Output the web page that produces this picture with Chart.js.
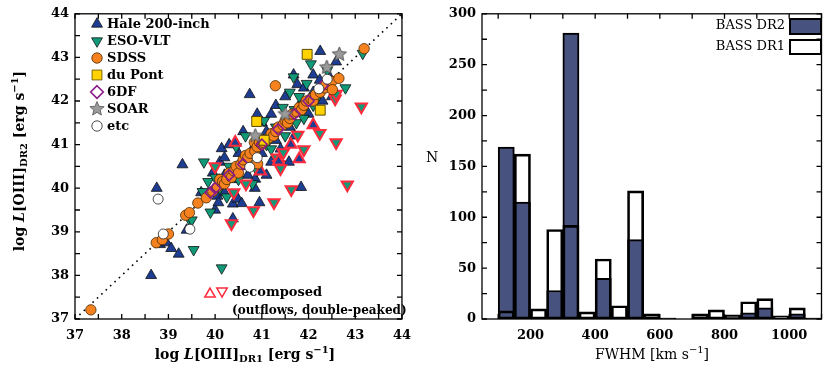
<!DOCTYPE html>
<html>
<head>
<meta charset="utf-8">
<script src="https://cdn.jsdelivr.net/npm/chart.js@4.4.0/dist/chart.umd.min.js"></script>
<style>
  body { margin: 0; background: #fff; }
  #wrap { position: relative; width: 830px; height: 368px; }
  canvas { position: absolute; top: 0; }
</style>
</head>
<body>
<div id="wrap">
  <canvas id="scatter" width="420" height="368" style="left:0"></canvas>
  <canvas id="hist" width="410" height="368" style="left:420px"></canvas>
</div>
<script>
// --- left panel: log L[OIII] DR1 vs DR2, [x, y] pairs per telescope ---
const hale = [[38.63,38.00],[38.75,40.00],[38.82,38.71],[38.96,38.75],[39.06,38.62],[39.22,38.49],[39.39,39.04],[39.30,40.54],
  [39.70,39.90],[39.95,40.35],[40.00,39.50],[40.05,39.82],[40.07,39.67],[40.10,40.60],[40.14,40.91],[40.20,40.30],[40.20,39.90],
  [40.20,40.70],[40.30,41.00],[40.38,39.30],[40.38,39.64],[40.40,40.20],[40.49,39.75],[40.50,40.80],[40.57,39.65],[40.60,40.50],
  [40.60,41.30],[40.70,40.30],[40.74,42.15],[40.80,40.90],[40.85,40.00],[40.86,40.21],[40.90,41.70],[40.95,39.67],[41.00,40.80],
  [41.00,41.50],[41.10,41.30],[41.10,40.30],[41.20,40.60],[41.20,41.70],[41.30,41.10],[41.30,41.90],[41.40,40.90],[41.50,41.60],
  [41.50,42.10],[41.58,40.60],[41.60,41.40],[41.68,42.60],[41.70,41.20],[41.76,42.38],[41.80,41.90],[41.84,40.02],[41.90,42.30],
  [42.00,41.70],[42.10,42.20],[42.10,42.60],[42.24,42.48],[42.25,43.14],[42.30,42.00],[42.40,42.30],[42.45,42.55],[42.50,42.10],
  [42.59,42.90]];
const eso = [[39.47,39.24],[39.50,39.27],[39.54,38.59],[39.73,39.92],[39.76,40.60],[39.85,40.15],[39.90,39.45],[40.00,40.25],
  [40.10,40.00],[40.14,38.17],[40.25,39.80],[40.30,40.50],[40.45,40.95],[40.50,40.20],[40.65,41.20],[40.70,40.60],[40.80,40.10],
  [40.90,40.40],[41.05,41.55],[41.10,41.00],[41.20,40.90],[41.30,41.40],[41.45,41.85],[41.50,41.20],[41.60,42.20],[41.68,42.55],
  [41.70,41.80],[41.74,41.50],[41.80,42.10],[41.90,41.60],[41.96,42.40],[42.05,42.85],[42.10,41.90],[42.20,42.10],[42.30,42.30],
  [42.40,42.70],[42.79,42.30],[43.16,43.09]];
const haleDecomposed = [[40.43,41.05],[40.97,40.39],[41.36,40.62],[41.62,41.00],[41.80,40.67],[42.10,41.45]];
const esoDecomposed = [[40.00,40.50],[40.35,39.19],[40.40,39.90],[40.66,40.10],[40.82,39.49],[41.26,39.67],[41.33,40.70],
  [41.36,40.55],[41.40,40.45],[41.46,40.82],[41.63,39.97],[41.77,41.22],[41.90,40.89],[42.24,41.26],[42.57,42.05],[42.59,42.16],
  [42.59,41.05],[42.83,40.08],[43.13,41.87]];
const sdss = [[37.34,37.21],[38.74,38.75],[38.87,38.82],[39.00,38.95],[39.37,39.38],[39.45,39.44],[39.63,39.66],[39.81,39.78],
  [39.95,39.93],[40.05,40.04],[40.10,40.20],[40.16,40.15],[40.20,40.10],[40.25,40.20],[40.30,40.35],[40.35,40.25],[40.40,40.40],
  [40.45,40.50],[40.50,40.35],[40.55,40.55],[40.60,40.65],[40.65,40.75],[40.70,40.70],[40.75,40.80],[40.84,41.05],[40.85,40.85],
  [40.90,40.95],[40.91,40.56],[40.95,41.05],[41.00,41.00],[41.03,41.05],[41.05,41.10],[41.15,41.15],[41.20,41.25],[41.25,41.20],
  [41.29,42.35],[41.30,41.30],[41.35,41.40],[41.45,41.45],[41.50,41.55],[41.55,41.50],[41.60,41.60],[41.65,41.70],[41.75,41.75],
  [41.80,41.85],[41.85,41.80],[41.90,41.90],[41.95,42.00],[42.05,42.05],[42.10,42.00],[42.15,42.15],[42.25,42.20],[42.35,42.30],
  [42.37,42.38],[42.50,42.45],[42.51,42.26],[42.65,42.52],[43.19,43.20]];
const duPont = [[40.89,41.53],[41.05,41.10],[41.97,43.07],[42.25,41.79]];
const sixDF = [[39.90,39.90],[40.00,40.00],[40.30,40.30],[40.60,40.55],[41.00,41.00],[41.35,41.35],[41.70,41.70],[42.00,42.00],[42.30,42.35]];
const soar = [[40.86,41.20],[41.50,41.70],[42.39,42.77],[42.66,43.07]];
const etc = [[38.78,39.75],[38.89,38.95],[39.46,39.06],[40.74,40.48],[40.90,40.70],[42.22,42.28],[42.40,42.50]];
const oneToOne = [[37,37],[44,44]];
const lumTicks = [37,38,39,40,41,42,43,44];
const lumMinor = [37,37.5,38,38.5,39,39.5,40,40.5,41,41.5,42,42.5,43,43.5,44];

// --- right panel: FWHM histogram, 50 km/s bins ---
const fwhmBins = [125,175,225,275,325,375,425,475,525,575,625,675,725,775,825,875,925,975,1025,1075];
const dr2Counts = [169,115,1,28,281,0,40,0,78,0,1,0,2,0,0,6,11,0,5,1];
const dr1Counts = [8,162,10,88,92,7,59,13,126,5,1,0,5,9,4,17,20,3,11,1];
const fwhmTicks = [200,400,600,800,1000];
const fwhmMinor = [100,200,300,400,500,600,700,800,900,1000,1100];
const nTicks = [0,50,100,150,200,250,300];
const nMinor = [0,25,50,75,100,125,150,175,200,225,250,275,300];

const TICK_FONT = { family: 'DejaVu Serif', size: 13, weight: 'bold' };
const TITLE = 'bold 14px "DejaVu Serif"';
const TITLE_SM = 'bold 10px "DejaVu Serif"';
const TITLE_IT = 'italic bold 14px "DejaVu Serif"';
const PLAIN = '14px "DejaVu Serif"';
const PLAIN_SM = '10px "DejaVu Serif"';

const HALE = '#1d3d92', ESO = '#119a78', SDSS = '#f5821f', DUPONT = '#ffd200';
const SIXDF = '#8a1a8a', SOAR = '#9a9a9a', RED = '#ff2a3c', DR2 = '#48527f';

const pts = arr => arr.map(([x, y]) => ({ x, y }));

function starPath(g, x, y, r) {
  g.beginPath();
  for (let i = 0; i < 10; i++) {
    const rr = i % 2 ? r * 0.45 : r;
    const a = -Math.PI / 2 + i * Math.PI / 5;
    g.lineTo(x + rr * Math.cos(a), y + rr * Math.sin(a));
  }
  g.closePath();
}
function starImage(r, fill, stroke) {
  const c = document.createElement('canvas');
  const s = Math.ceil(r * 2 + 4);
  c.width = s; c.height = s;
  const g = c.getContext('2d');
  starPath(g, s / 2, s / 2, r);
  g.fillStyle = fill; g.fill();
  g.strokeStyle = stroke; g.lineWidth = 1; g.stroke();
  return c;
}

// marker shapes for the hand-drawn legend (same geometry as the chart.js point styles)
function marker(g, kind, x, y, r, fill, stroke, lw) {
  g.beginPath();
  if (kind === 'up' || kind === 'down') {
    const s = kind === 'up' ? 1 : -1;
    g.moveTo(x, y - s * r);
    g.lineTo(x + r * 0.866, y + s * r / 2);
    g.lineTo(x - r * 0.866, y + s * r / 2);
    g.closePath();
  } else if (kind === 'circle') {
    g.arc(x, y, r, 0, Math.PI * 2);
  } else if (kind === 'square') {
    const h = r * Math.SQRT1_2;
    g.rect(x - h, y - h, 2 * h, 2 * h);
  } else if (kind === 'diamond') {
    g.moveTo(x, y - r); g.lineTo(x + r, y); g.lineTo(x, y + r); g.lineTo(x - r, y); g.closePath();
  } else if (kind === 'star') {
    starPath(g, x, y, r);
  }
  if (fill) { g.fillStyle = fill; g.fill(); }
  if (stroke) { g.strokeStyle = stroke; g.lineWidth = lw; g.stroke(); }
}

// text made of pieces with their own font and baseline shift
function richText(g, parts, x, y, align, rotate) {
  g.save();
  g.translate(x, y);
  if (rotate) g.rotate(-Math.PI / 2);
  let w = 0;
  parts.forEach(p => { g.font = p.f || TITLE; w += g.measureText(p.t).width; });
  let cx = align === 'center' ? -w / 2 : 0;
  g.textBaseline = 'middle';
  g.textAlign = 'left';
  g.fillStyle = '#000';
  parts.forEach(p => {
    g.font = p.f || TITLE;
    g.fillText(p.t, cx, p.dy || 0);
    cx += g.measureText(p.t).width;
  });
  g.restore();
}

function lumTitle(sub) {
  return [{ t: 'log ' }, { t: 'L', f: TITLE_IT }, { t: '[OIII]' }, { t: sub, f: TITLE_SM, dy: 4 },
    { t: ' [erg s' }, { t: '\u22121', f: TITLE_SM, dy: -5 }, { t: ']' }];
}

// box frame with inward ticks on all four sides
const frameTicks = {
  id: 'frameTicks',
  afterDatasetsDraw(chart, args, opts) {
    const { ctx, chartArea: a, scales } = chart;
    ctx.save();
    ctx.strokeStyle = '#000';
    ctx.lineWidth = 1.3;
    ctx.strokeRect(a.left, a.top, a.right - a.left, a.bottom - a.top);
    ctx.beginPath();
    opts.xMinor.forEach(v => {
      const p = scales.x.getPixelForValue(v);
      ctx.moveTo(p, a.bottom); ctx.lineTo(p, a.bottom - opts.len);
      ctx.moveTo(p, a.top); ctx.lineTo(p, a.top + opts.len);
    });
    opts.yMinor.forEach(v => {
      const p = scales.y.getPixelForValue(v);
      ctx.moveTo(a.left, p); ctx.lineTo(a.left + opts.len, p);
      ctx.moveTo(a.right, p); ctx.lineTo(a.right - opts.len, p);
    });
    ctx.stroke();
    ctx.restore();
  }
};

const scatterDecor = {
  id: 'scatterDecor',
  afterDraw(chart) {
    const g = chart.ctx;
    const rows = [
      ['up', HALE, '#111', 'Hale 200-inch'],
      ['down', ESO, '#111', 'ESO-VLT'],
      ['circle', SDSS, '#4a2a00', 'SDSS'],
      ['square', DUPONT, '#5a4a00', 'du Pont'],
      ['diamond', null, SIXDF, '6DF'],
      ['star', SOAR, '#555', 'SOAR'],
      ['circle', '#fff', '#222', 'etc']
    ];
    g.save();
    rows.forEach((r, i) => {
      const y = 24 + i * 17;
      const size = r[0] === 'star' ? 7.5 : r[0] === 'square' ? 7 : r[0] === 'circle' ? 5.2 : 6.3;
      marker(g, r[0], 97, y, size, r[1], r[2], r[0] === 'diamond' ? 1.6 : 0.8);
      g.font = 'bold 13px "DejaVu Serif"';
      g.fillStyle = '#000';
      g.textBaseline = 'middle';
      g.fillText(r[3], 107, y + 1);
    });
    marker(g, 'up', 210, 294, 6, null, RED, 1.5);
    marker(g, 'down', 222, 291, 6, null, RED, 1.5);
    g.font = 'bold 13px "DejaVu Serif"';
    g.fillStyle = '#000';
    g.fillText('decomposed', 232, 293);
    g.font = 'bold 12px "DejaVu Serif"';
    g.fillText('(outflows, double-peaked)', 232, 311);
    g.restore();
    richText(g, lumTitle('DR2'), 20, 161, 'center', true);
    richText(g, lumTitle('DR1'), 245, 355, 'center', false);
  }
};

const histDecor = {
  id: 'histDecor',
  afterDraw(chart) {
    const g = chart.ctx;
    g.save();
    g.font = '13px "DejaVu Serif"';
    g.fillStyle = '#000';
    g.textBaseline = 'middle';
    g.textAlign = 'right';
    g.fillText('BASS DR2', 365, 26);
    g.fillText('BASS DR1', 365, 47);
    g.fillStyle = DR2;
    g.fillRect(370, 19, 31, 15);
    g.strokeStyle = '#000';
    g.lineWidth = 2;
    g.strokeRect(370, 19, 31, 15);
    g.strokeRect(370, 40, 31, 14);
    g.fillStyle = '#000';
    g.textAlign = 'center';
    g.font = PLAIN;
    g.fillText('N', 12, 158);
    g.restore();
    richText(g, [{ t: 'FWHM [km s', f: PLAIN }, { t: '\u22121', f: PLAIN_SM, dy: -5 }, { t: ']', f: PLAIN }],
      232, 355, 'center', false);
  }
};

const common = {
  responsive: false,
  animation: false,
  devicePixelRatio: 1,
  events: [],
  plugins: { legend: { display: false }, tooltip: { enabled: false } }
};

function axis(min, max, ticks, padding, fit) {
  return {
    type: 'linear', min, max, offset: false,
    afterBuildTicks: s => { s.ticks = ticks.map(v => ({ value: v })); },
    afterFit: fit,
    grid: { display: false, drawTicks: false, offset: false },
    border: { display: false },
    ticks: { font: TICK_FONT, color: '#000', padding, maxRotation: 0, autoSkip: false, callback: v => String(v) }
  };
}

const scatterSet = (data, style, fill, stroke, radius, lw, order, rotation) => ({
  data: pts(data), pointStyle: style, backgroundColor: fill, borderColor: stroke,
  pointRadius: radius, pointBorderWidth: lw, rotation: rotation || 0, order
});

new Chart(document.getElementById('scatter'), {
  type: 'scatter',
  data: {
    datasets: [
      { data: pts(oneToOne), showLine: true, borderColor: '#000', borderWidth: 1.6, borderDash: [1.6, 4.4],
        pointRadius: 0, order: 20 },
      scatterSet(hale, 'triangle', HALE, '#111', 6.3, 0.8, 9),
      scatterSet(eso, 'triangle', ESO, '#111', 6.3, 0.8, 8, 180),
      scatterSet(haleDecomposed, 'triangle', HALE, RED, 6.5, 2, 7),
      scatterSet(esoDecomposed, 'triangle', ESO, RED, 6.5, 2, 7, 180),
      scatterSet(sdss, 'circle', SDSS, '#4a2a00', 5.2, 0.8, 5),
      scatterSet(duPont, 'rect', DUPONT, '#5a4a00', 7, 1, 4),
      scatterSet(sixDF, 'rectRot', 'rgba(0,0,0,0)', SIXDF, 5.5, 1.6, 3),
      { data: pts(soar), pointStyle: starImage(7.5, SOAR, '#555'), order: 2 },
      scatterSet(etc, 'circle', '#fff', '#222', 5, 0.8, 1)
    ]
  },
  options: {
    ...common,
    layout: { padding: { top: 3, right: 5, left: 0, bottom: 0 } },
    scales: {
      x: axis(37, 44, lumTicks, 9, s => { s.height = 49; }),
      y: axis(37, 44, lumTicks, 6, s => { s.width = 75; })
    },
    plugins: { ...common.plugins, frameTicks: { xMinor: lumMinor, yMinor: lumMinor, len: 5 } }
  },
  plugins: [frameTicks, scatterDecor]
});

new Chart(document.getElementById('hist'), {
  type: 'bar',
  data: {
    datasets: [
      { label: 'BASS DR2', data: fwhmBins.map((x, i) => ({ x, y: dr2Counts[i] })), backgroundColor: DR2,
        borderColor: '#000', borderWidth: 2, borderSkipped: false, order: 2,
        grouped: false, barPercentage: 1, categoryPercentage: 1 },
      { label: 'BASS DR1', data: fwhmBins.map((x, i) => ({ x, y: dr1Counts[i] })), backgroundColor: 'rgba(0,0,0,0)',
        borderColor: '#000', borderWidth: 2, borderSkipped: false, order: 1,
        grouped: false, barPercentage: 1, categoryPercentage: 1 }
    ]
  },
  options: {
    ...common,
    layout: { padding: { top: 3, right: 8.5, left: 0, bottom: 0 } },
    scales: {
      x: axis(50, 1100, fwhmTicks, 9, s => { s.height = 49; }),
      y: axis(0, 300, nTicks, 6, s => { s.width = 62; })
    },
    plugins: { ...common.plugins, frameTicks: { xMinor: fwhmMinor, yMinor: nMinor, len: 5 } }
  },
  plugins: [frameTicks, histDecor]
});
</script>
</body>
</html>
